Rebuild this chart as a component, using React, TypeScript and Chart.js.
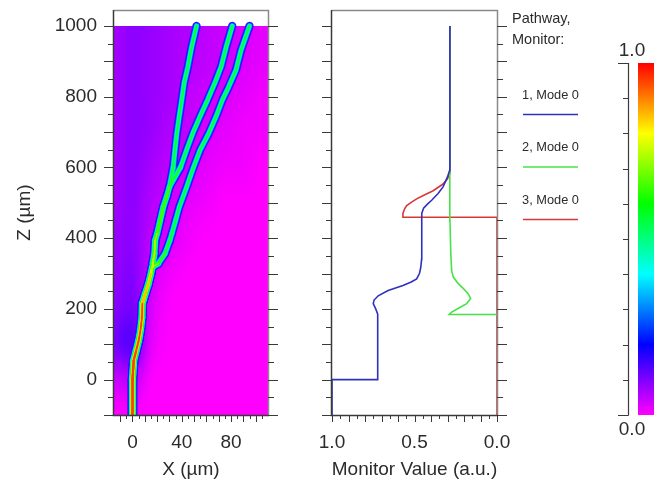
import React, { useEffect, useRef } from "react";
import { Chart, registerables } from "chart.js";

Chart.register(...registerables);

const FONT = "'Liberation Sans', Arial, Helvetica, sans-serif";
const TXT = "#2b2b2b";
const AXIS = "#3a3a3a";
const FRAME = "#8a8a8a";

// ---------- shared axis ranges / tick labels ----------
const zRange = [-100, 1045];
const xRange = [-15, 110];
const zLabelTicks = [0, 200, 400, 600, 800, 1000];
const xLabelTicks = [0, 40, 80];
const monitorLabelTicks = [1.0, 0.5, 0.0];
const colorbarLabelTicks = [1.0, 0.0];

// ---------- colour map (value 0..1) ----------
const cmapStops = [0, 0.2, 0.4, 0.6, 0.8, 1.0];
const cmapRGB = [
  [255, 0, 255],
  [0, 0, 255],
  [0, 255, 255],
  [0, 255, 0],
  [255, 255, 0],
  [255, 0, 0],
];

// ---------- background field (left panel), rows top (Z=1000) -> bottom ----------
const fieldX = [-15, 0, 15, 30, 45, 60, 75, 90, 105];
const fieldZ = [1000, 900, 800, 700, 600, 500, 400, 300, 200, 100, 0, -100];
const fieldValues = [
  [0.07, 0.09, 0.08, 0.07, 0.06, 0.05, 0.04, 0.03, 0.02],
  [0.07, 0.09, 0.08, 0.07, 0.06, 0.05, 0.04, 0.03, 0.02],
  [0.07, 0.09, 0.08, 0.07, 0.05, 0.04, 0.03, 0.02, 0.01],
  [0.07, 0.09, 0.08, 0.06, 0.05, 0.03, 0.02, 0.01, 0.01],
  [0.07, 0.09, 0.07, 0.05, 0.04, 0.02, 0.01, 0.01, 0.0],
  [0.07, 0.09, 0.06, 0.04, 0.02, 0.01, 0.0, 0.0, 0.0],
  [0.08, 0.09, 0.05, 0.03, 0.01, 0.0, 0.0, 0.0, 0.0],
  [0.08, 0.10, 0.04, 0.01, 0.0, 0.0, 0.0, 0.0, 0.0],
  [0.09, 0.11, 0.03, 0.0, 0.0, 0.0, 0.0, 0.0, 0.0],
  [0.11, 0.14, 0.02, 0.0, 0.0, 0.0, 0.0, 0.0, 0.0],
  [0.04, 0.05, 0.0, 0.0, 0.0, 0.0, 0.0, 0.0, 0.0],
  [0.0, 0.0, 0.0, 0.0, 0.0, 0.0, 0.0, 0.0, 0.0],
];

// ---------- waveguide paths (X µm, Z µm, peak intensity) ----------
const trunkZ = [-100, 0, 54, 82, 110, 139, 176, 215, 243, 271, 300, 318];
const trunkX = [0, 0, 1, 3, 5, 6.5, 7.7, 8, 10.4, 13, 15, 16];
const trunkPeak = [1.0, 1.0, 0.98, 0.95, 0.93, 0.93, 0.93, 0.92, 0.88, 0.84, 0.8, 0.78];

const mergedZ = [330, 356, 394, 413, 450, 488, 520, 545];
const mergedX = [16.5, 17.8, 18.4, 20, 22.5, 25, 28, 30];
const mergedPeak = [0.76, 0.74, 0.72, 0.7, 0.7, 0.68, 0.66, 0.63];

const path1Z = [600, 650, 697, 745, 791, 840, 885, 940, 1000];
const path1X = [33, 34.5, 36, 38, 40, 42, 45, 48, 52];
const path1Peak = [0.58, 0.58, 0.58, 0.58, 0.58, 0.58, 0.58, 0.58, 0.58];

const path2Z = [600, 650, 697, 745, 791, 840, 885, 940, 1000];
const path2X = [39, 44, 49, 55, 61, 67, 72, 76, 81];
const path2Peak = [0.58, 0.58, 0.58, 0.58, 0.58, 0.58, 0.58, 0.58, 0.58];

const path3Z = [328, 356, 394, 413, 450, 488, 545, 600, 650, 697, 745, 791, 827, 875, 930, 1000];
const path3X = [21, 26.4, 30.4, 32, 35, 38, 44, 49.5, 55, 62, 68, 73, 78, 84, 88, 95];
const path3Peak = [0.66, 0.62, 0.6, 0.6, 0.58, 0.58, 0.58, 0.58, 0.58, 0.58, 0.58, 0.58, 0.58, 0.58, 0.58, 0.58];

const fieldLevels = [0.1, 0.2, 0.3, 0.4, 0.5, 0.6, 0.7, 0.8, 0.9];

// ---------- monitor values (middle panel) ----------
const monitorNames = ["1, Mode 0", "2, Mode 0", "3, Mode 0"];
const monitorColors = ["rgb(48,48,190)", "rgb(72,226,72)", "rgb(214,56,56)"];

const mon1V = [1.0, 1.0, 0.723, 0.723, 0.735, 0.75, 0.745, 0.72, 0.66, 0.57, 0.52, 0.487, 0.47, 0.462, 0.457, 0.456, 0.445, 0.42, 0.396, 0.357, 0.327, 0.30, 0.287, 0.286, 0.285];
const mon1Z = [-100, 0, 0, 185, 200, 215, 225, 237, 252, 266, 276, 285, 300, 317, 340, 470, 485, 497, 507, 526, 545, 573, 592, 700, 1000];

const mon2V = [0.0, 0.29, 0.275, 0.236, 0.184, 0.16, 0.175, 0.205, 0.236, 0.265, 0.275, 0.28, 0.285, 0.287, 0.285];
const mon2Z = [184, 184, 191, 201, 215, 229, 243, 258, 272, 290, 309, 356, 450, 600, 1000];

const mon3V = [0.0, 0.0, 0.57, 0.57, 0.56, 0.547, 0.52, 0.487, 0.44, 0.387, 0.327, 0.30, 0.288, 0.286, 0.285];
const mon3Z = [-100, 459, 459, 470, 483, 492, 501, 511, 522, 534, 553, 568, 582, 700, 1000];

// ---------- colour bar ----------
const colorbarTicks = [0, 0.1, 0.2, 0.3, 0.4, 0.5, 0.6, 0.7, 0.8, 0.9, 1.0];

// ================= helpers =================
function cmap(v: number): number[] {
  const t = Math.max(0, Math.min(1, v));
  for (let i = 0; i < cmapStops.length - 1; i++) {
    if (t <= cmapStops[i + 1]) {
      const f = (t - cmapStops[i]) / (cmapStops[i + 1] - cmapStops[i]);
      const a = cmapRGB[i];
      const b = cmapRGB[i + 1];
      return [a[0] + (b[0] - a[0]) * f, a[1] + (b[1] - a[1]) * f, a[2] + (b[2] - a[2]) * f];
    }
  }
  return cmapRGB[cmapRGB.length - 1];
}
function css(v: number): string {
  const c = cmap(v);
  return `rgb(${Math.round(c[0])},${Math.round(c[1])},${Math.round(c[2])})`;
}

function range(a: number, b: number, s: number): number[] {
  const out: number[] = [];
  for (let v = a; v <= b + 1e-9; v += s) out.push(Math.round(v * 1000) / 1000);
  return out;
}
const zTickMarks = range(-100, 1000, 50);
const xTickMarks = range(-10, 105, 5);
const monTickMarks = range(0, 1, 0.05);

function hLine(ctx: CanvasRenderingContext2D, x1: number, x2: number, y: number) {
  const yy = Math.round(y) + 0.5;
  ctx.moveTo(x1, yy);
  ctx.lineTo(x2, yy);
}
function vLine(ctx: CanvasRenderingContext2D, x: number, y1: number, y2: number) {
  const xx = Math.round(x) + 0.5;
  ctx.moveTo(xx, y1);
  ctx.lineTo(xx, y2);
}

function drawFrameAndZTicks(chart: any) {
  const ctx: CanvasRenderingContext2D = chart.ctx;
  const a = chart.chartArea;
  const ys = chart.scales.y;
  ctx.save();
  ctx.strokeStyle = FRAME;
  ctx.lineWidth = 1.5;
  ctx.beginPath();
  ctx.moveTo(a.left, a.top + 0.5);
  ctx.lineTo(a.right + 0.5, a.top + 0.5);
  ctx.lineTo(a.right + 0.5, a.bottom);
  ctx.stroke();
  ctx.strokeStyle = AXIS;
  ctx.lineWidth = 1.5;
  ctx.beginPath();
  ctx.moveTo(a.left - 0.5, a.top);
  ctx.lineTo(a.left - 0.5, a.bottom + 0.5);
  ctx.lineTo(a.right + 1, a.bottom + 0.5);
  ctx.stroke();
  ctx.lineWidth = 1;
  ctx.strokeStyle = AXIS;
  ctx.beginPath();
  zTickMarks.forEach((z) => {
    const y = ys.getPixelForValue(z);
    const len = z % 100 === 0 ? 10 : 6;
    hLine(ctx, a.left - len, a.left, y);
    hLine(ctx, a.right, a.right + len, y);
  });
  ctx.stroke();
  ctx.restore();
}

function drawXTicks(chart: any, marks: number[], isMajor: (v: number) => boolean) {
  const ctx: CanvasRenderingContext2D = chart.ctx;
  const a = chart.chartArea;
  const xs = chart.scales.x;
  ctx.save();
  ctx.strokeStyle = AXIS;
  ctx.lineWidth = 1;
  ctx.beginPath();
  marks.forEach((v) => {
    const x = xs.getPixelForValue(v);
    vLine(ctx, x, a.bottom, a.bottom + (isMajor(v) ? 7 : 4));
  });
  ctx.stroke();
  ctx.restore();
}

function drawText(ctx: CanvasRenderingContext2D, text: string, x: number, y: number, size: number, rot = 0, align: CanvasTextAlign = "center") {
  ctx.save();
  ctx.translate(x, y);
  ctx.rotate(rot);
  ctx.fillStyle = TXT;
  ctx.font = `${size}px ${FONT}`;
  ctx.textAlign = align;
  ctx.textBaseline = "middle";
  ctx.fillText(text, 0, 0);
  ctx.restore();
}

// ================= plugins =================
const fieldPlugin = {
  id: "fieldPlugin",
  beforeDatasetsDraw(chart: any) {
    const ctx: CanvasRenderingContext2D = chart.ctx;
    const xs = chart.scales.x;
    const ys = chart.scales.y;
    const nx = fieldX.length;
    const nz = fieldZ.length;
    const off = document.createElement("canvas");
    off.width = nx;
    off.height = nz;
    const octx = off.getContext("2d")!;
    const img = octx.createImageData(nx, nz);
    for (let r = 0; r < nz; r++) {
      for (let c = 0; c < nx; c++) {
        const col = cmap(fieldValues[r][c]);
        const k = (r * nx + c) * 4;
        img.data[k] = col[0];
        img.data[k + 1] = col[1];
        img.data[k + 2] = col[2];
        img.data[k + 3] = 255;
      }
    }
    octx.putImageData(img, 0, 0);
    const dx = (fieldX[1] - fieldX[0]) / 2;
    const dz = (fieldZ[0] - fieldZ[1]) / 2;
    const left = xs.getPixelForValue(fieldX[0] - dx);
    const right = xs.getPixelForValue(fieldX[nx - 1] + dx);
    const top = ys.getPixelForValue(fieldZ[0] + dz);
    const bottom = ys.getPixelForValue(fieldZ[nz - 1] - dz);
    const cl = xs.getPixelForValue(xRange[0]);
    const cr = xs.getPixelForValue(xRange[1]);
    const ct = ys.getPixelForValue(1000);
    const cb = ys.getPixelForValue(zRange[0]);
    ctx.save();
    ctx.beginPath();
    ctx.rect(cl, ct, cr - cl, cb - ct);
    ctx.clip();
    ctx.imageSmoothingEnabled = true;
    (ctx as any).imageSmoothingQuality = "high";
    ctx.drawImage(off, left, top, right - left, bottom - top);
    ctx.restore();
  },
  afterDraw(chart: any) {
    const ctx: CanvasRenderingContext2D = chart.ctx;
    const a = chart.chartArea;
    drawFrameAndZTicks(chart);
    drawXTicks(chart, xTickMarks, (v) => v % 10 === 0);
    drawText(ctx, "Z (\u00b5m)", 25, (a.top + a.bottom) / 2, 19, -Math.PI / 2);
    drawText(ctx, "X (\u00b5m)", (a.left + a.right) / 2, 470, 19);
  },
};

const monitorPlugin = {
  id: "monitorPlugin",
  afterDraw(chart: any) {
    const ctx: CanvasRenderingContext2D = chart.ctx;
    const a = chart.chartArea;
    drawFrameAndZTicks(chart);
    drawXTicks(chart, monTickMarks, (v) => Math.round(v * 100) % 10 === 0);
    drawText(ctx, "Monitor Value (a.u.)", (a.left + a.right) / 2, 470, 19);
    const lx = a.right + 15;
    drawText(ctx, "Pathway,", lx, 19, 14.5, 0, "left");
    drawText(ctx, "Monitor:", lx, 40, 14.5, 0, "left");
    chart.data.datasets.forEach((ds: any, i: number) => {
      const ty = 95 + i * 52.5;
      drawText(ctx, ds.label, lx + 38.5, ty, 12.8, 0, "center");
      ctx.save();
      ctx.strokeStyle = ds.borderColor;
      ctx.lineWidth = 1.6;
      ctx.beginPath();
      ctx.moveTo(lx + 11, ty + 19.5);
      ctx.lineTo(lx + 66, ty + 19.5);
      ctx.stroke();
      ctx.restore();
    });
  },
};

const colorbarPlugin = {
  id: "colorbarPlugin",
  afterDraw(chart: any) {
    const ctx: CanvasRenderingContext2D = chart.ctx;
    const a = chart.chartArea;
    const ys = chart.scales.y;
    const ax = a.left - 10;
    ctx.save();
    ctx.strokeStyle = AXIS;
    ctx.lineWidth = 1.2;
    ctx.beginPath();
    vLine(ctx, ax, ys.getPixelForValue(0) + 0.5, ys.getPixelForValue(1));
    ctx.stroke();
    ctx.lineWidth = 1;
    ctx.beginPath();
    colorbarTicks.forEach((v) => {
      const y = ys.getPixelForValue(v);
      const len = v === 0 || v === 1 ? 10 : 5;
      hLine(ctx, ax - len, ax + 0.5, y);
    });
    ctx.stroke();
    ctx.restore();
    colorbarLabelTicks.forEach((v) => {
      const y = ys.getPixelForValue(v);
      drawText(ctx, v.toFixed(1), ax + 4, v >= 0.5 ? y - 12 : y + 15, 19);
    });
  },
};

const noPad = (s: any) => {
  s.paddingTop = 0;
  s.paddingBottom = 0;
};

// ================= component =================
export default function App() {
  const leftRef = useRef<HTMLCanvasElement>(null);
  const midRef = useRef<HTMLCanvasElement>(null);
  const barRef = useRef<HTMLCanvasElement>(null);

  useEffect(() => {
    const common = {
      responsive: false,
      animation: false as const,
      devicePixelRatio: 1,
      events: [] as any[],
      plugins: { legend: { display: false }, tooltip: { enabled: false } },
    };
    const tickFont = { family: FONT, size: 19 };

    const pathways = [
      { z: [...trunkZ, ...mergedZ, ...path1Z], x: [...trunkX, ...mergedX, ...path1X], p: [...trunkPeak, ...mergedPeak, ...path1Peak] },
      { z: [...trunkZ, ...mergedZ, ...path2Z], x: [...trunkX, ...mergedX, ...path2X], p: [...trunkPeak, ...mergedPeak, ...path2Peak] },
      { z: [...trunkZ, ...path3Z], x: [...trunkX, ...path3X], p: [...trunkPeak, ...path3Peak] },
    ];
    const SIGMA = 2.2;
    const fieldDatasets: any[] = [];
    fieldLevels.forEach((lv, li) => {
      pathways.forEach((pw) => {
        const segPeak = (c: any) => (pw.p[c.p0DataIndex] + pw.p[c.p1DataIndex]) / 2;
        fieldDatasets.push({
          data: pw.z.map((z, i) => ({ x: pw.x[i], y: z })),
          showLine: true,
          pointRadius: 0,
          borderColor: css(lv + 0.05),
          borderWidth: 2,
          borderCapStyle: "round",
          borderJoinStyle: "round",
          order: 100 - li,
          segment: {
            borderColor: (c: any) => (segPeak(c) > lv ? css(lv + 0.05) : "rgba(0,0,0,0)"),
            borderWidth: (c: any) => {
              const p = segPeak(c);
              return p > lv ? 2 * SIGMA * Math.sqrt(2 * Math.log(p / lv)) : 0.01;
            },
          },
        });
      });
    });

    const left = new Chart(leftRef.current!, {
      type: "scatter",
      data: { datasets: fieldDatasets },
      options: {
        ...common,
        layout: { padding: { top: 10, right: 22, left: 0, bottom: 0 } },
        scales: {
          x: {
            type: "linear",
            min: xRange[0],
            max: xRange[1],
            grid: { display: false, drawTicks: false },
            border: { display: false },
            afterBuildTicks: (s: any) => {
              s.ticks = xLabelTicks.map((v) => ({ value: v }));
            },
            afterFit: (s: any) => {
              s.height = 71;
            },
            ticks: { autoSkip: false, maxRotation: 0, padding: 16, color: TXT, font: tickFont, callback: (v: any) => String(v) },
          },
          y: {
            type: "linear",
            min: zRange[0],
            max: zRange[1],
            grid: { display: false, drawTicks: false },
            border: { display: false },
            afterBuildTicks: (s: any) => {
              s.ticks = zLabelTicks.map((v) => ({ value: v }));
            },
            afterFit: (s: any) => {
              s.width = 114;
              noPad(s);
            },
            ticks: { autoSkip: false, padding: 17, color: TXT, font: tickFont, callback: (v: any) => String(v) },
          },
        },
      } as any,
      plugins: [fieldPlugin],
    });

    const mons = [
      { v: mon1V, z: mon1Z },
      { v: mon2V, z: mon2Z },
      { v: mon3V, z: mon3Z },
    ];
    const mid = new Chart(midRef.current!, {
      type: "scatter",
      data: {
        datasets: mons.map((m, i) => ({
          label: monitorNames[i],
          data: m.v.map((v, k) => ({ x: v, y: m.z[k] })),
          showLine: true,
          pointRadius: 0,
          borderColor: monitorColors[i],
          borderWidth: 1.6,
          tension: 0,
          clip: 3,
        })),
      },
      options: {
        ...common,
        layout: { padding: { top: 10, right: 103, left: 0, bottom: 0 } },
        scales: {
          x: {
            type: "linear",
            min: 0,
            max: 1,
            reverse: true,
            grid: { display: false, drawTicks: false },
            border: { display: false },
            afterBuildTicks: (s: any) => {
              s.ticks = monitorLabelTicks.map((v) => ({ value: v }));
            },
            afterFit: (s: any) => {
              s.height = 71;
            },
            ticks: { autoSkip: false, maxRotation: 0, padding: 16, color: TXT, font: tickFont, callback: (v: any) => Number(v).toFixed(1) },
          },
          y: {
            type: "linear",
            min: zRange[0],
            max: zRange[1],
            grid: { display: false, drawTicks: false },
            border: { display: false },
            ticks: { display: false },
            afterFit: (s: any) => {
              s.width = 42;
              noPad(s);
            },
          },
        },
      } as any,
      plugins: [monitorPlugin],
    });

    const bar = new Chart(barRef.current!, {
      type: "bar",
      data: {
        labels: ["intensity"],
        datasets: [
          {
            data: [[0, 1]] as any,
            borderWidth: 0,
            barPercentage: 1,
            categoryPercentage: 1,
            backgroundColor: (c: any) => {
              const ch = c.chart;
              const ys = ch.scales && ch.scales.y;
              if (!ys || !ch.chartArea) return css(0.5);
              const g = ch.ctx.createLinearGradient(0, ys.getPixelForValue(0), 0, ys.getPixelForValue(1));
              cmapStops.forEach((s) => g.addColorStop(s, css(s)));
              return g;
            },
          },
        ],
      },
      options: {
        ...common,
        layout: { padding: { top: 63, bottom: 71, left: 38, right: 0 } },
        scales: {
          x: { display: false },
          y: { display: false, min: 0, max: 1 },
        },
      } as any,
      plugins: [colorbarPlugin],
    });

    return () => {
      left.destroy();
      mid.destroy();
      bar.destroy();
    };
  }, []);

  return (
    <div style={{ position: "fixed", left: 0, top: 0, width: 654, height: 486, background: "#ffffff", overflow: "hidden" }}>
      <canvas ref={leftRef} width={290} height={486} style={{ position: "absolute", left: 0, top: 0, width: 290, height: 486 }} />
      <canvas ref={midRef} width={310} height={486} style={{ position: "absolute", left: 290, top: 0, width: 310, height: 486 }} />
      <canvas ref={barRef} width={54} height={486} style={{ position: "absolute", left: 600, top: 0, width: 54, height: 486 }} />
    </div>
  );
}
